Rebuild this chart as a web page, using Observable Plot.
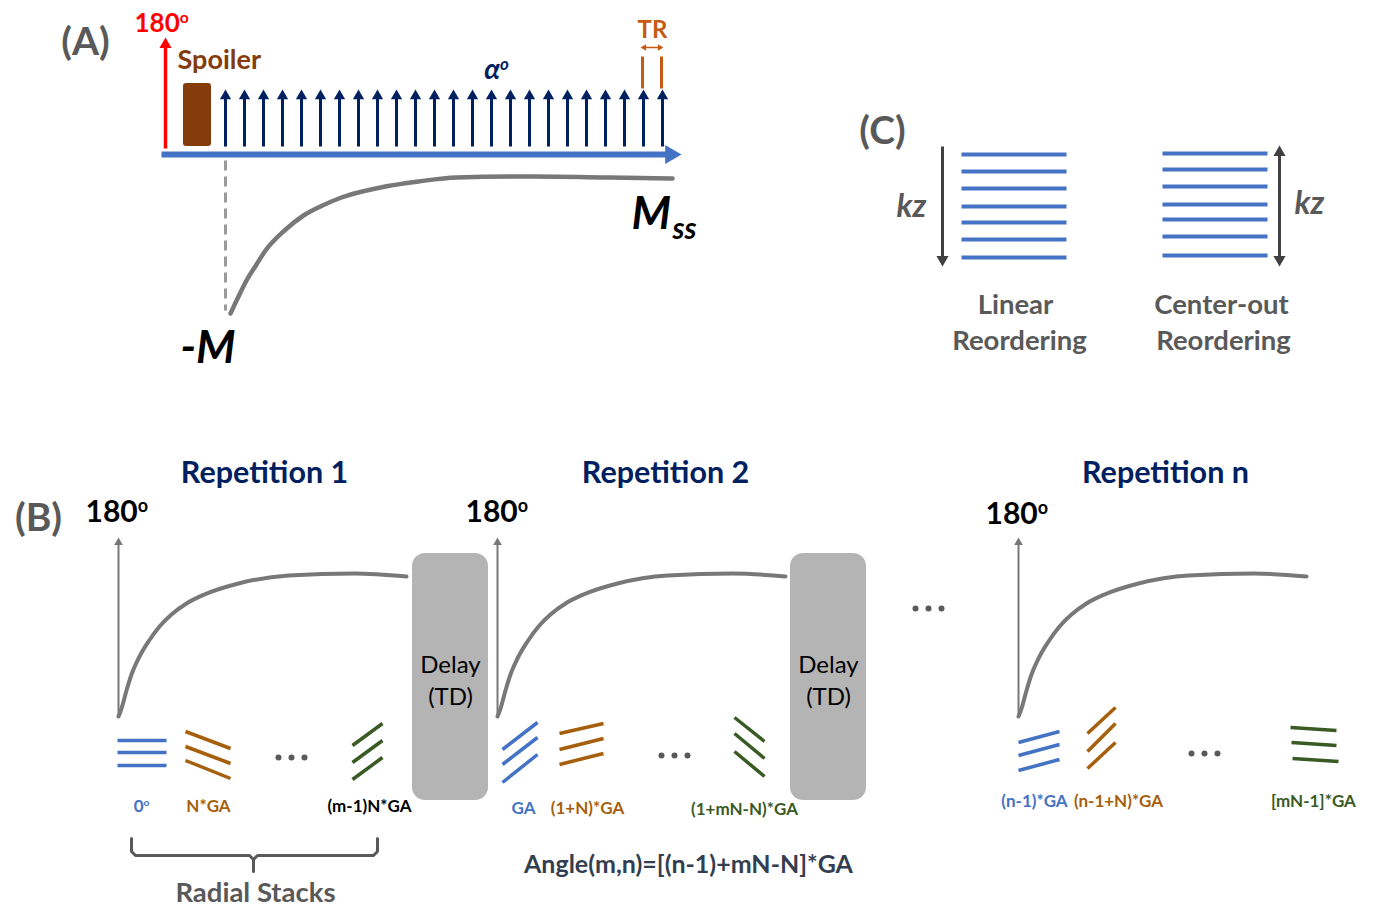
<!DOCTYPE html>
<html>
<head>
<meta charset="utf-8">
<script src="https://cdn.jsdelivr.net/npm/d3@7"></script>
<script src="https://cdn.jsdelivr.net/npm/@observablehq/plot@0.6"></script>
<style>
  html, body { margin: 0; padding: 0; background: #ffffff; }
  #chart svg { display: block; }
</style>
</head>
<body>
<div id="chart"></div>
<script>
// Sequence diagram: (A) IR-prepared FLASH readout, (B) golden-angle stack ordering
// across repetitions, (C) kz reordering schemes. Everything lives in one
// 1373 x 910 drawing space; x/y scales are identity maps onto that space.

const W = 1373, H = 910;

// ---------- Panel A: inversion + alpha pulse train ----------
const inversionPulseX = 165;
const alphaPulseTimes = [225, 244, 263, 282, 301, 320, 339, 358, 377, 396, 415, 434,
                         453, 472, 491, 510, 529, 548, 567, 586, 605, 624, 643, 662];
const trBarTimes = [642, 661];
// longitudinal magnetisation after inversion, recovering from -M to Mss
const recoveryA = [[230, 313], [238, 296], [246, 280], [256, 264], [265, 250], [284, 230],
                   [303, 215], [322, 205], [341, 197], [380, 187], [418, 181], [456, 177],
                   [533, 176], [609, 177], [672, 178]];

// ---------- Panel C: kz partitions ----------
const kzLinear = [154, 171, 188, 206, 222, 239, 257];
const kzCenterOut = [153, 169, 186, 204, 219, 236, 255];

// ---------- Panel B: repetitions ----------
const repetitionTitles = ["Repetition 1", "Repetition 2", "Repetition n"];
const repetitionTitleX = [264, 665, 1165];
const repetitionStartX = [118, 497, 1018];
// recovery profile after each 180° pulse (offset from the pulse foot)
const recoveryProfile = [[0, 0], [3, -8], [8, -26], [13, -42], [20, -58], [30, -75], [41, -90],
                         [53, -102], [68, -113], [86, -122], [120, -133], [170, -141],
                         [236, -143], [288, -140]];
const delayBoxesX = [[412, 488], [790, 866]];

// radial spokes of each stack: [group, x1, y1, x2, y2]
const spokesRep1 = [
  ["first", 117, 740, 166, 740], ["first", 117, 752, 166, 752], ["first", 117, 765, 166, 765],
  ["second", 185, 731, 230, 748], ["second", 185, 746, 230, 763], ["second", 185, 760, 230, 778],
  ["last", 352, 745, 382, 723], ["last", 352, 762, 382, 740], ["last", 352, 779, 382, 757]
];
const spokesRep2 = [
  ["first", 502, 749, 537, 722], ["first", 502, 764, 537, 737], ["first", 502, 782, 537, 754],
  ["second", 559, 733, 603, 723], ["second", 559, 749, 603, 738], ["second", 559, 764, 603, 753],
  ["last", 734, 717, 764, 741], ["last", 734, 733, 764, 758], ["last", 734, 751, 764, 776]
];
const spokesRepN = [
  ["first", 1018, 742, 1059, 731], ["first", 1018, 755, 1059, 744], ["first", 1018, 770, 1059, 759],
  ["second", 1087, 733, 1115, 707], ["second", 1087, 751, 1115, 723], ["second", 1087, 768, 1115, 742],
  ["last", 1290, 727, 1336, 730], ["last", 1291, 742, 1336, 745], ["last", 1292, 758, 1338, 761]
];
// angle labels under the stacks: [group, text, x, y]
const spokeLabels = [
  ["first", "0^o", 141, 806], ["second", "N*GA", 208, 806], ["plain", "(m-1)N*GA", 369, 806],
  ["first", "GA", 523, 808], ["second", "(1+N)*GA", 587, 808], ["last", "(1+mN-N)*GA", 744, 809],
  ["first", "(n-1)*GA", 1034, 801], ["second", "(n-1+N)*GA", 1118, 801], ["last", "[mN-1]*GA", 1313, 801]
];
const ellipsisCenters = [[291, 757], [674, 755], [1204, 753], [928, 608]];

// ---------- colours & fonts ----------
const blue = "#4472C4", navy = "#002060", red = "#FF0000", spoilerBrown = "#843C0C";
const trOrange = "#C55A11", labelGrey = "#595959", curveGrey = "#787878", boxGrey = "#B4B4B4";
const arrowGrey = "#404040", stackBrown = "#A65F0C", stackGreen = "#3A5A24", slate = "#333F50";
const groupColor = {first: blue, second: stackBrown, last: stackGreen, plain: "#000000"};
const font = "Lato, 'Open Sans', sans-serif";

// ---------- helpers ----------
const seg = (x1, y1, x2, y2) => ({x1, y1, x2, y2});
const HEAD_K = 1.555; // centroid-to-tip distance of d3's triangle symbol, in units of r
const headAt = (x, y, rotate, r) => {
  const a = rotate * Math.PI / 180;
  return {x: x - HEAD_K * r * Math.sin(a), y: y + HEAD_K * r * Math.cos(a), rotate};
};
const links = (data, o) => Plot.link(data, {x1: "x1", y1: "y1", x2: "x2", y2: "y2", ...o});
const heads = (data, r, fill) =>
  Plot.dot(data, {x: "x", y: "y", rotate: "rotate", r, fill, symbol: "triangle"});
const label = (data, o) => Plot.text(data, {x: "x", y: "y", text: "t", fontFamily: font, ...o});

const curveB = repetitionStartX.map((x0, i) =>
  recoveryProfile.map(([dx, dy]) => ({x: x0 + dx, y: 716 + dy, rep: i})));

const spokes = [...spokesRep1, ...spokesRep2, ...spokesRepN]
  .map(([g, x1, y1, x2, y2]) => ({g, x1, y1, x2, y2}));

const brace = [
  {x: 131, y: 838, s: 0}, {x: 131, y: 851, s: 0}, {x: 135, y: 855, s: 0}, {x: 249, y: 855, s: 0},
  {x: 253, y: 859, s: 0}, {x: 253, y: 871, s: 0},
  {x: 253, y: 859, s: 1}, {x: 257, y: 855, s: 1}, {x: 373, y: 855, s: 1}, {x: 377, y: 851, s: 1},
  {x: 377, y: 838, s: 1}
];

const chart = Plot.plot({
  width: W,
  height: H,
  margin: 0,
  x: {domain: [0, W], range: [0, W], axis: null},
  y: {domain: [0, H], range: [0, H], axis: null},
  style: {background: "#ffffff", fontFamily: font},
  marks: [
    // ===== Panel A =====
    links([seg(161, 154, 670, 154)], {stroke: blue, strokeWidth: 6}),
    heads([headAt(681, 154, 90, 7)], 7, blue),
    links([seg(inversionPulseX, 148, inversionPulseX, 44)], {stroke: red, strokeWidth: 3.5}),
    heads([headAt(inversionPulseX, 37, 0, 4.5)], 4.5, red),
    Plot.rect([{x1: 183, x2: 211, y1: 83, y2: 146}],
      {x1: "x1", x2: "x2", y1: "y1", y2: "y2", rx: 3, fill: spoilerBrown}),
    links(alphaPulseTimes.map(t => seg(t, 146, t, 95)), {stroke: navy, strokeWidth: 3}),
    heads(alphaPulseTimes.map(t => headAt(t, 89, 0, 4.2)), 4.2, navy),
    links(trBarTimes.map(t => seg(t, 56, t, 88)), {stroke: trOrange, strokeWidth: 3}),
    links([seg(645, 47, 658, 47)], {stroke: trOrange, strokeWidth: 1.5}),
    heads([headAt(640, 47, 270, 2.4), headAt(663, 47, 90, 2.4)], 2.4, trOrange),
    links([seg(225, 160, 225, 310)], {stroke: "#9A9A9A", strokeWidth: 3, strokeDasharray: "10,6"}),
    Plot.line(recoveryA, {x: d => d[0], y: d => d[1], curve: "monotone-x",
      stroke: curveGrey, strokeWidth: 4.5}),
    label([{t: "(A)", x: 85, y: 42}], {fontSize: 39, fontWeight: "bold", fill: labelGrey}),
    label([{t: "180^o", x: 134, y: 23}], {fontSize: 26, fontWeight: "bold", fill: red, textAnchor: "start"}),
    label([{t: "Spoiler", x: 177, y: 60}], {fontSize: 27, fontWeight: "bold", fill: spoilerBrown, textAnchor: "start"}),
    label([{t: "α^o", x: 496, y: 70}], {fontSize: 28, fontWeight: "bold", fontStyle: "italic", fill: navy}),
    label([{t: "TR", x: 652, y: 30}], {fontSize: 24, fontWeight: "bold", fill: trOrange}),
    label([{t: "M_ss", x: 631, y: 214}], {fontSize: 45, fontWeight: "bold", fontStyle: "italic", fill: "#000", textAnchor: "start"}),
    label([{t: "-M", x: 180, y: 348}], {fontSize: 45, fontWeight: "bold", fontStyle: "italic", fill: "#000", textAnchor: "start"}),

    // ===== Panel C =====
    links(kzLinear.map(y => seg(961, y, 1066, y)), {stroke: blue, strokeWidth: 4}),
    links(kzCenterOut.map(y => seg(1162, y, 1267, y)), {stroke: blue, strokeWidth: 4}),
    links([seg(942, 146, 942, 258), seg(1279, 152, 1279, 258)], {stroke: arrowGrey, strokeWidth: 3}),
    heads([headAt(942, 266, 180, 4.5), headAt(1279, 266, 180, 4.5), headAt(1279, 145, 0, 4.5)], 4.5, arrowGrey),
    label([{t: "(C)", x: 882, y: 131}], {fontSize: 39, fontWeight: "bold", fill: labelGrey}),
    label([{t: "kz", x: 911, y: 206}, {t: "kz", x: 1309, y: 203}],
      {fontSize: 32, fontWeight: "bold", fontStyle: "italic", fill: labelGrey}),
    label([{t: "Linear", x: 1015, y: 305}, {t: "Reordering", x: 1019, y: 341},
           {t: "Center-out", x: 1221, y: 305}, {t: "Reordering", x: 1223, y: 341}],
      {fontSize: 27.5, fontWeight: "bold", fill: labelGrey}),

    // ===== Panel B =====
    Plot.rect(delayBoxesX.map(([x1, x2]) => ({x1, x2, y1: 553, y2: 800})),
      {x1: "x1", x2: "x2", y1: "y1", y2: "y2", rx: 13, fill: boxGrey}),
    label(delayBoxesX.flatMap(([a, b]) => [{t: "Delay", x: (a + b) / 2, y: 665}, {t: "(TD)", x: (a + b) / 2, y: 697}]),
      {fontSize: 24, fill: "#000"}),
    Plot.line(curveB.flat(), {x: "x", y: "y", z: "rep", curve: "monotone-x",
      stroke: curveGrey, strokeWidth: 4}),
    links(repetitionStartX.map(x => seg(x, 717, x, 544)), {stroke: curveGrey, strokeWidth: 2}),
    heads(repetitionStartX.map(x => headAt(x, 537, 0, 3.2)), 3.2, curveGrey),
    label(repetitionTitles.map((t, i) => ({t, x: repetitionTitleX[i], y: 473})),
      {fontSize: 30.5, fontWeight: "bold", fill: navy}),
    label([{t: "180^o", x: 85, y: 512}, {t: "180^o", x: 465, y: 512}, {t: "180^o", x: 985, y: 514}],
      {fontSize: 30, fontWeight: "bold", fill: "#000", textAnchor: "start"}),
    label([{t: "(B)", x: 38, y: 518}], {fontSize: 39, fontWeight: "bold", fill: labelGrey}),
    links(spokes, {stroke: d => groupColor[d.g], strokeWidth: 3.5}),
    Plot.dot(ellipsisCenters.flatMap(([x, y]) => [-13, 0, 13].map(dx => ({x: x + dx, y}))),
      {x: "x", y: "y", r: 3, fill: labelGrey}),
    label(spokeLabels.map(([g, t, x, y]) => ({g, t, x, y})),
      {fontSize: 17, fontWeight: "bold", fill: d => groupColor[d.g]}),
    Plot.line(brace, {x: "x", y: "y", z: "s", stroke: labelGrey, strokeWidth: 3,
      strokeLinejoin: "round", strokeLinecap: "round"}),
    label([{t: "Angle(m,n)=[(n-1)+mN-N]*GA", x: 688, y: 864}], {fontSize: 25, fontWeight: "bold", fill: slate}),
    label([{t: "Radial Stacks", x: 255, y: 893}], {fontSize: 27.5, fontWeight: "bold", fill: labelGrey})
  ]
});

// Turn "a^b" into a raised b and "a_b" into a lowered b
const NS = "http://www.w3.org/2000/svg";
chart.querySelectorAll("text").forEach(el => {
  const m = el.textContent.match(/^(.*?)([\^_])(.+)$/);
  if (!m) return;
  el.textContent = "";
  const base = document.createElementNS(NS, "tspan");
  base.textContent = m[1];
  const mod = document.createElementNS(NS, "tspan");
  mod.textContent = m[3];
  if (m[2] === "^") {
    mod.setAttribute("font-size", "0.6em");
    mod.setAttribute("dy", "-0.55em");
  } else {
    mod.setAttribute("font-size", "0.66em");
    mod.setAttribute("dy", "0.35em");
    mod.setAttribute("dx", "0.05em");
  }
  el.append(base, mod);
});

document.getElementById("chart").append(chart);
</script>
</body>
</html>
